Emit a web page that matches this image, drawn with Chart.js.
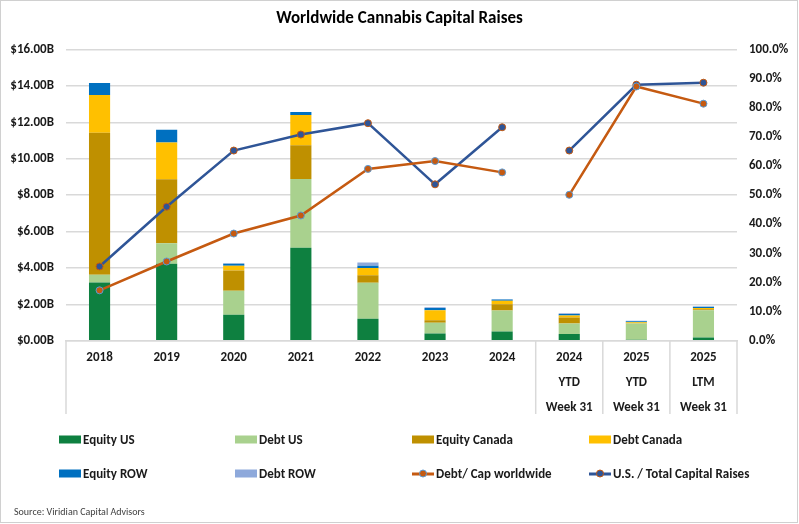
<!DOCTYPE html>
<html lang="en">
<head>
  <meta charset="UTF-8" />
  <title>Worldwide Cannabis Capital Raises</title>
  <script src="https://cdn.jsdelivr.net/npm/chart.js"></script>
  <style>
    html, body { margin: 0; padding: 0; background: #fff; }
    #wrap { position: relative; width: 799px; height: 524px; font-family: Carlito, Lato, sans-serif; }
    #legend .item { position: absolute; display: flex; align-items: center; font-weight: bold; font-size: 13px; color: #1a1a1a; white-space: nowrap; transform: translateY(-50%); }
    #legend .icon { width: 22px; height: 8px; margin-right: 2px; position: relative; }
    #source { position: absolute; left: 14px; top: 505px; font-size: 10px; color: #404040; }
  </style>
</head>
<body>
  <div id="wrap">
    <canvas id="capChart" width="799" height="524"></canvas>
    <div id="legend"></div>
    <div id="source">Source: Viridian Capital Advisors</div>
  </div>

  <script>
    const categories = ['2018', '2019', '2020', '2021', '2022', '2023', '2024',
      ['2024', 'YTD', 'Week 31'], ['2025', 'YTD', 'Week 31'], ['2025', 'LTM', 'Week 31']];

    // $ billions
    const equityUS     = [3.20, 4.23, 1.42, 5.11, 1.21, 0.39, 0.50, 0.37, 0.05, 0.17];
    const debtUS       = [0.42, 1.12, 1.32, 3.77, 1.97, 0.59, 1.16, 0.57, 0.89, 1.50];
    const equityCanada = [7.81, 3.52, 1.12, 1.86, 0.41, 0.14, 0.34, 0.33, 0.02, 0.06];
    const debtCanada   = [2.07, 2.02, 0.26, 1.66, 0.40, 0.55, 0.19, 0.11, 0.05, 0.07];
    const equityROW    = [0.66, 0.70, 0.11, 0.16, 0.13, 0.12, 0.07, 0.09, 0.06, 0.07];
    const debtROW      = [0.00, 0.00, 0.03, 0.00, 0.18, 0.05, 0.02, 0.04, 0.03, 0.01];

    // percent
    const debtToCap = [17.3, 27.2, 36.8, 43.0, 59.0, 61.7, 57.8, 50.1, 87.3, 81.4];
    const usShare   = [25.5, 46.0, 65.3, 70.8, 74.7, 53.7, 73.3, 65.3, 87.9, 88.6];

    const leftTicks = [0, 2, 4, 6, 8, 10, 12, 14, 16];

    const ORANGE = '#C55A11';
    const BLUE = '#2F5597';
    const FONT = 'Carlito, Lato, sans-serif';
    const GRID = '#d9d9d9';
    const BREAK_AFTER = 6; // lines are broken between 2024 and 2024 YTD

    function bar(label, data, color) {
      return { type: 'bar', label, data, backgroundColor: color, yAxisID: 'y', stack: 's', order: 2,
               barPercentage: 0.315, categoryPercentage: 1, borderWidth: 0 };
    }
    function line(label, data, color, rim) {
      return {
        type: 'line', label, data, yAxisID: 'y1', order: 0,
        borderColor: color, borderWidth: 2.5, backgroundColor: color,
        pointBackgroundColor: color, pointBorderColor: rim, pointBorderWidth: 1,
        pointRadius: 3.5, tension: 0,
        segment: { borderColor: ctx => ctx.p0DataIndex === BREAK_AFTER ? 'rgba(0,0,0,0)' : color }
      };
    }

    const datasets = [
      bar('Equity US', equityUS, '#0E8040'),
      bar('Debt US', debtUS, '#A9D18E'),
      bar('Equity Canada', equityCanada, '#BF9000'),
      bar('Debt Canada', debtCanada, '#FFC000'),
      bar('Equity ROW', equityROW, '#0070C0'),
      bar('Debt ROW', debtROW, '#8EA9DB'),
      line('Debt/ Cap worldwide', debtToCap, ORANGE, '#5B9BD5'),
      line('U.S. / Total Capital Raises', usShare, BLUE, ORANGE)
    ];

    // white background, outer border and the category group dividers
    const frame = {
      id: 'frame',
      beforeDraw(chart) {
        const c = chart.ctx;
        c.save();
        c.fillStyle = '#fff';
        c.fillRect(0, 0, chart.width, chart.height);
        c.restore();
      },
      afterDraw(chart) {
        const c = chart.ctx, a = chart.chartArea, x = chart.scales.x;
        const half = (a.right - a.left) / categories.length / 2;
        c.save();
        c.strokeStyle = GRID;
        c.lineWidth = 1.5;
        const xs = [a.left, x.getPixelForValue(7) - half, x.getPixelForValue(8) - half,
                    x.getPixelForValue(9) - half, a.right];
        xs.forEach(px => {
          c.beginPath();
          c.moveTo(px, a.bottom);
          c.lineTo(px, 414);
          c.stroke();
        });
        c.lineWidth = 1;
        c.strokeStyle = '#d0d0d0';
        c.strokeRect(0.5, 0.5, 797, 522);
        c.restore();
      }
    };

    const chart = new Chart(document.getElementById('capChart'), {
      data: { labels: categories, datasets },
      plugins: [frame],
      options: {
        responsive: false,
        animation: false,
        layout: { padding: 0 },
        plugins: {
          legend: { display: false },
          tooltip: { enabled: false },
          title: {
            display: true,
            text: 'Worldwide Cannabis Capital Raises',
            color: '#000',
            font: { family: FONT, size: 17, weight: 'bold', lineHeight: 1.2 },
            padding: { top: 9, bottom: 20.1 }
          }
        },
        scales: {
          x: {
            stacked: true,
            grid: { display: false },
            border: { display: true, color: GRID, width: 1.5 },
            ticks: { color: '#1a1a1a', padding: -3, maxRotation: 0, autoSkip: false,
                     font: { family: FONT, size: 13, weight: 'bold', lineHeight: 1.9 } },
            afterFit: s => { s.height = 183.3; }
          },
          y: {
            stacked: true,
            position: 'left',
            min: 0, max: 16,
            afterBuildTicks: s => { s.ticks = leftTicks.map(v => ({ value: v })); },
            grid: { color: GRID, lineWidth: 1.5, drawTicks: false },
            border: { display: false },
            ticks: { color: '#1a1a1a', padding: 12,
                     font: { family: FONT, size: 13, weight: 'bold' },
                     callback: v => '$' + v.toFixed(2) + 'B' },
            afterFit: s => { s.width = 66; }
          },
          y1: {
            position: 'right',
            min: 0, max: 100,
            grid: { display: false, drawTicks: false },
            border: { display: false },
            ticks: { stepSize: 10, color: '#1a1a1a', padding: 12,
                     font: { family: FONT, size: 13, weight: 'bold' },
                     callback: v => v.toFixed(1) + '%' },
            afterFit: s => { s.width = 62; }
          }
        }
      }
    });

    // legend in Excel's 4-column grid, built from the datasets
    const legendEl = document.getElementById('legend');
    const colX = [59, 235, 412, 589];
    const rowY = [439, 473];
    chart.data.datasets.forEach((ds, i) => {
      const item = document.createElement('div');
      item.className = 'item';
      item.style.left = colX[i % 4] + 'px';
      item.style.top = rowY[Math.floor(i / 4)] + 'px';
      const icon = document.createElement('span');
      icon.className = 'icon';
      if (ds.type === 'bar') {
        icon.style.background = ds.backgroundColor;
      } else {
        icon.innerHTML =
          `<span style="position:absolute;left:0;right:0;top:3px;height:3px;background:${ds.borderColor}"></span>` +
          `<span style="position:absolute;left:7px;top:0.5px;width:6px;height:6px;border-radius:50%;` +
          `background:${ds.pointBackgroundColor};border:1px solid ${ds.pointBorderColor}"></span>`;
      }
      const text = document.createElement('span');
      text.textContent = ds.label;
      item.appendChild(icon);
      item.appendChild(text);
      legendEl.appendChild(item);
    });
  </script>
</body>
</html>
